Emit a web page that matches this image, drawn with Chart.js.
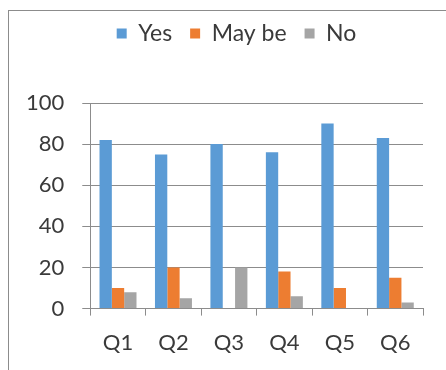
<!DOCTYPE html>
<html>
<head>
<meta charset="utf-8">
<script src="https://cdn.jsdelivr.net/npm/chart.js@4.4.0/dist/chart.umd.min.js"></script>
<style>
    body { margin: 0; background: #fff; }
    #wrap { position: relative; width: 446px; height: 370px; overflow: hidden; }
    #frame { position: absolute; left: 8px; top: 10px; width: 460px; height: 380px;
             border-top: 1px solid #8c8c8c; border-left: 1px solid #8c8c8c; }
    canvas { position: absolute; left: 0; top: 0; }
</style>
</head>
<body>
<div id="wrap">
    <div id="frame"></div>
    <canvas id="chart" width="446" height="370"></canvas>
</div>
<script>
const questions = ['Q1', 'Q2', 'Q3', 'Q4', 'Q5', 'Q6'];
const yesValues = [82, 75, 80, 76, 90, 83];
const maybeValues = [10, 20, 0, 18, 10, 15];
const noValues = [8, 5, 20, 6, 0, 3];
const yTicks = [0, 20, 40, 60, 80, 100];

const textColor = '#3a3a3a';
const lineColor = '#8c8c8c';
const font = { family: 'Lato', size: 22 };

// push the plot area down below the legend, and centre the legend like the original frame
const legendMargin = {
    id: 'legendMargin',
    beforeInit(chart) {
        const fit = chart.legend.fit;
        chart.legend.fit = function () {
            fit.bind(chart.legend)();
            this.height += 48;
        };
    },
    afterLayout(chart) {
        chart.legend.left += 21;
        chart.legend.right += 21;
    }
};

let ctx = document.getElementById('chart').getContext('2d');
new Chart(ctx, {
    type: 'bar',
    data: {
        labels: questions,
        datasets: [{
            label: 'Yes',
            backgroundColor: '#5b9bd5',
            data: yesValues
        }, {
            label: 'May be',
            backgroundColor: '#ed7d31',
            data: maybeValues
        }, {
            label: 'No',
            backgroundColor: '#a5a5a5',
            data: noValues
        }]
    },
    options: {
        responsive: false,
        animation: false,
        layout: { padding: { left: 8, right: 23, top: 4, bottom: 0 } },
        datasets: {
            bar: { categoryPercentage: 0.667, barPercentage: 1.0 }
        },
        plugins: {
            tooltip: { enabled: false },
            legend: {
                position: 'top',
                labels: {
                    boxWidth: 10,
                    boxHeight: 10,
                    padding: 18,
                    color: textColor,
                    font: { family: 'Lato', size: 23 }
                }
            }
        },
        scales: {
            x: {
                grid: { drawOnChartArea: false, drawTicks: true, tickLength: 7, color: lineColor },
                border: { color: lineColor },
                ticks: { color: textColor, padding: 14, font: font }
            },
            y: {
                min: 0,
                max: 100,
                afterBuildTicks: (scale) => {
                    scale.ticks = yTicks.map((v) => ({ value: v }));
                },
                grid: { color: lineColor, tickLength: 8 },
                border: { color: lineColor },
                ticks: { color: textColor, padding: 18, font: font }
            }
        }
    },
    plugins: [legendMargin]
});
</script>
</body>
</html>
